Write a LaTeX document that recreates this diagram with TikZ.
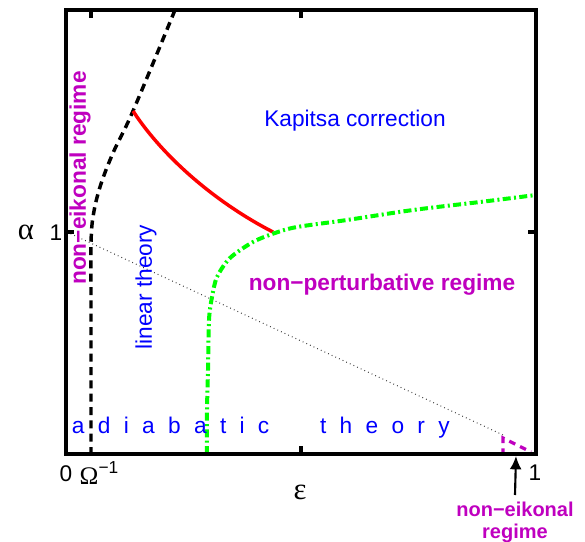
\documentclass[tikz,border=0pt]{standalone}
\usepackage{fontspec}
\setmainfont{Liberation Sans}
\newfontfamily\greekfont{Liberation Serif}
\usepackage{tikz}
\usetikzlibrary{arrows.meta,positioning}
\definecolor{plotblue}{HTML}{0000FF}
\definecolor{plotmag}{HTML}{BF00BF}
\definecolor{plotgreen}{HTML}{00FF00}
\definecolor{plotred}{HTML}{FF0000}
\tikzset{
  frame/.style={line width=2.3pt,draw=black},
  tickmark/.style={line width=2.3pt,draw=black},
  ticklbl/.style={inner sep=0pt,font=\fontsize{17}{20}\selectfont},
  greeklbl/.style={inner sep=0pt,font=\fontsize{23}{26}\selectfont\greekfont},
  bluelbl/.style={inner sep=0pt,text=plotblue,font=\fontsize{17}{20}\selectfont},
  maglbl/.style={inner sep=0pt,text=plotmag,font=\fontsize{17}{20}\selectfont\bfseries},
  adiabline/.style={line width=2.6pt,draw=black,dash pattern=on 6pt off 4pt},
  kapline/.style={line width=2.6pt,draw=plotred},
  pertline/.style={line width=3pt,draw=plotgreen,dash pattern=on 6pt off 2.5pt on 1.5pt off 2.5pt},
  linline/.style={line width=0.8pt,draw=black!80,dash pattern=on 0.6pt off 2.4pt},
  eikline/.style={line width=2.4pt,draw=plotmag,dash pattern=on 5pt off 4pt},
  arrow/.style={-{Latex[length=10pt,width=9pt]},line width=1.6pt,draw=black}
}

\begin{document}
\begin{tikzpicture}[x=0.75pt,y=-0.75pt]
  \useasboundingbox (0,0) rectangle (585,542);
  % regime borders
  \draw[linline] (67,232) -- (503,435);
  \draw[adiabline] plot[smooth,tension=0.6] coordinates {(175,10) (133,111) (113,153) (100,187) (93,217) (91,245) (91,300) (91,454)};
  \draw[kapline] (133,111) .. controls (165,160) and (220,205) .. (273,232);
  \draw[pertline] plot[smooth,tension=0.5] coordinates {(207,454) (207,410) (208,370) (209,320) (212,297) (217,277) (230,258) (253,242) (275,233) (297,227) (347,220) (413,210) (480,202) (536,195)};
  \draw[eikline] (503,455) -- (503,438) -- (531,452);
  % axes box and ticks
  \draw[frame] (66,10) rectangle (536,454);
  \draw[tickmark] (66,232) -- (74,232);
  \draw[tickmark] (536,232) -- (528,232);
  \draw[tickmark] (301,454) -- (301,446);
  \draw[tickmark] (301,10) -- (301,18);
  \draw[tickmark] (91,10) -- (91,18);
  % tick labels
  \node[ticklbl] (xzero) at (66,474) {0};
  \node[ticklbl] (xomega) at (99,473) {{\fontsize{19}{22}\selectfont\greekfont Ω}\raisebox{0.45em}{\fontsize{13}{15}\selectfont −1}};
  \node[ticklbl] (xone) at (535,473) {1};
  \node[ticklbl] (yone) at (56,233) {1};
  \node[greeklbl] (alphalbl) at (26,232) {α};
  \node[greeklbl] (epslbl) at (300,492) {ε};
  % regime labels
  \node[bluelbl] (kapitsa) at (355,121) {Kapitsa correction};
  \node[maglbl] (nonpert) at (382,285) {non−perturbative regime};
  \node[bluelbl,rotate=90] (linear) at (146,287) {linear theory};
  \node[maglbl,rotate=90] (eikleft) at (80,178) {non−eikonal regime};
  \node[bluelbl,anchor=base west] (adiab) at (71.7,433)
    {a\hspace{10pt}d\hspace{10pt}i\hspace{10pt}a\hspace{10pt}b\hspace{10pt}a\hspace{10pt}t\hspace{10pt}i\hspace{10pt}c\hspace{38pt}t\hspace{10pt}h\hspace{10pt}e\hspace{10pt}o\hspace{10pt}r\hspace{10pt}y};
  \node[maglbl,font=\fontsize{15}{17}\selectfont\bfseries,align=center,anchor=north,outer sep=5pt] (eikbot) at (515,495) {non−eikonal\\regime};
  \coordinate (eikpt) at (516,456);
  \draw[arrow] (eikbot.north) -- (eikpt);
\end{tikzpicture}
\end{document}
